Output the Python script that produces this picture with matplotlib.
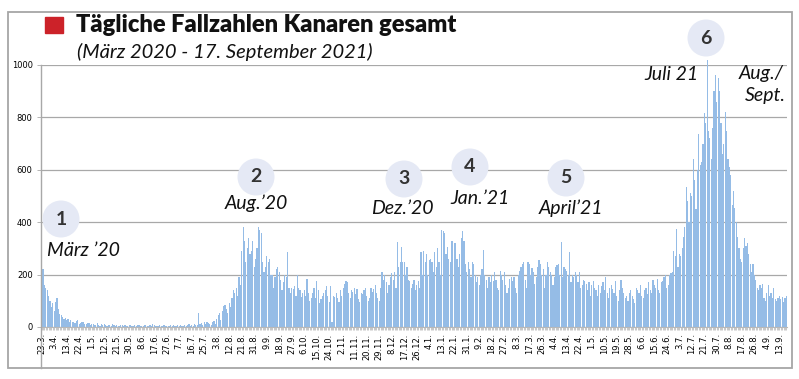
import matplotlib
matplotlib.use("Agg")
import matplotlib.pyplot as plt
from matplotlib.patches import Rectangle, Ellipse
from matplotlib.lines import Line2D

# ---- data: daily cases (one bar per reported day) ----
cases = [
    100, 220, 160, 150, 140, 120, 100, 75, 90, 60, 95, 110, 70, 50,
    45, 40, 30, 35, 25, 30, 20, 25, 18, 20, 15, 22, 28, 12,
    15, 20, 18, 10, 12, 16, 14, 8, 10, 12, 6, 9, 14, 7,
    5, 10, 8, 12, 6, 4, 9, 7, 5, 11, 6, 3, 8, 5,
    4, 7, 6, 3, 9, 5, 4, 6, 8, 3, 5, 7, 4, 6,
    8, 3, 5, 4, 6, 9, 3, 5, 7, 4, 12, 6, 3, 5,
    4, 6, 3, 5, 8, 4, 2, 5, 3, 6, 4, 7, 3, 5,
    6, 3, 8, 4, 5, 7, 3, 6, 10, 5, 8, 4, 12, 6,
    9, 55, 10, 14, 8, 18, 12, 20, 15, 10, 8, 20, 22, 12,
    30, 45, 55, 25, 60, 80, 85, 70, 55, 90, 75, 110, 140, 130,
    150, 120, 190, 160, 290, 380, 330, 250, 300, 340, 280, 290, 330, 230,
    260, 300, 380, 370, 360, 250, 210, 230, 270, 250, 260, 200, 200, 150,
    190, 220, 230, 210, 180, 140, 170, 200, 190, 285, 150, 130, 150, 145,
    155, 120, 200, 150, 140, 115, 130, 140, 120, 185, 130, 100, 110, 130,
    150, 110, 175, 140, 90, 105, 120, 130, 140, 155, 120, 95, 155, 20,
    120, 115, 130, 110, 95, 140, 120, 150, 165, 175, 170, 130, 110, 140,
    135, 150, 125, 145, 105, 95, 130, 125, 140, 150, 120, 100, 110, 150,
    135, 145, 160, 130, 110, 100, 150, 210, 180, 200, 170, 130, 160, 190,
    205, 180, 210, 150, 325, 230, 250, 305, 250, 250, 200, 230, 180, 175,
    150, 165, 180, 140, 160, 175, 150, 285, 200, 290, 250, 280, 200, 255,
    260, 250, 210, 285, 230, 300, 250, 200, 370, 365, 360, 280, 305, 260,
    250, 330, 330, 320, 320, 260, 230, 280, 340, 365, 330, 240, 210, 250,
    220, 190, 250, 240, 200, 170, 190, 160, 200, 220, 295, 200, 180, 150,
    190, 170, 200, 175, 210, 180, 150, 140, 215, 200, 180, 210, 160, 130,
    150, 185, 190, 175, 190, 150, 130, 200, 215, 230, 240, 250, 180, 150,
    250, 240, 200, 225, 210, 165, 190, 230, 255, 240, 200, 220, 150, 200,
    250, 230, 210, 200, 160, 190, 230, 235, 240, 200, 325, 190, 230, 220,
    215, 200, 285, 170, 200, 190, 210, 200, 170, 210, 150, 160, 180, 175,
    165, 140, 170, 120, 160, 175, 150, 140, 120, 160, 130, 155, 170, 140,
    190, 130, 110, 150, 160, 145, 130, 175, 120, 100, 140, 180, 150, 130,
    110, 120, 100, 130, 140, 120, 105, 90, 150, 140, 130, 160, 120, 110,
    140, 150, 125, 170, 140, 130, 180, 160, 150, 185, 140, 130, 170, 175,
    190, 200, 150, 160, 200, 205, 210, 290, 270, 375, 230, 280, 270, 300,
    345, 380, 535, 480, 400, 510, 500, 640, 560, 450, 600, 735, 620, 630,
    700, 815, 780, 1020, 750, 720, 640, 760, 900, 960, 860, 950, 900, 780,
    660, 700, 820, 750, 640, 610, 580, 465, 520, 455, 400, 345, 300, 260,
    250, 300, 340, 310, 320, 280, 240, 210, 240, 200, 180, 150, 140, 160,
    150, 165, 110, 100, 130, 160, 120, 130, 110, 150, 105, 100, 110, 120,
    105, 115, 95, 110, 120,
]

tick_labels = [
    "23.3.", "3.4.", "13.4.", "22.4.", "1.5.", "12.5.", "21.5.", "30.5.", "8.6.", "17.6.",
    "27.6.", "7.7.", "16.7.", "25.7.", "3.8.", "12.8.", "21.8.", "31.8.", "9.9.", "18.9.",
    "27.9.", "6.10.", "15.10.", "24.10.", "2.11.", "11.11.", "20.11.", "29.11.", "8.12.", "17.12.",
    "26.12.", "4.1.", "13.1.", "22.1.", "31.1.", "9.2.", "18.2.", "27.2.", "8.3.", "17.3.",
    "26.3.", "4.4.", "13.4.", "22.4.", "1.5.", "10.5.", "19.5.", "28.5.", "6.6.", "15.6.",
    "24.6.", "3.7.", "12.7.", "21.7.", "30.7.", "8.8.", "17.8.", "26.8.", "4.9.", "13.9.",
]
tick_step = 9

y_ticks = [0, 200, 400, 600, 800, 1000]

annotations = [
    ("1", "März ’20"),
    ("2", "Aug.’20"),
    ("3", "Dez.’20"),
    ("4", "Jan.’21"),
    ("5", "April’21"),
    ("6", "Juli 21"),
]

title = "Tägliche Fallzahlen Kanaren gesamt"
subtitle = "(März 2020 - 17. September 2021)"

# ---- figure ----
W, H = 799, 379
fig = plt.figure(figsize=(W / 100, H / 100), dpi=100)


def fx(px):
    return px / W


def fy(py):
    return 1 - py / H


ax = fig.add_axes([fx(41), fy(327), fx(787) - fx(41), fy(65) - fy(327)])
n = len(cases)
x = list(range(n))
ax.bar(x, cases, width=0.85, color="#95bce6", edgecolor="none", clip_on=False, zorder=2)
ax.set_xlim(-0.5, n - 0.5)
ax.set_ylim(0, 1000)
ax.set_yticks(y_ticks)
ax.set_yticklabels([str(v) for v in y_ticks], fontsize=6, family="DejaVu Sans")
ax.grid(axis="y", color="#a8a8a8", linewidth=0.9, zorder=0)
ax.set_axisbelow(True)
ax.set_xticks([i * tick_step for i in range(len(tick_labels))])
ax.set_xticklabels(tick_labels, rotation=90, fontsize=6, family="DejaVu Sans")
ax.set_xticks(x, minor=True)
ax.tick_params(axis="x", which="both", length=2.5, width=0.5, color="#b0b0b0", pad=2)
ax.tick_params(axis="y", length=3, width=0.6, color="#a8a8a8", pad=3)
for s in ["top", "right", "left"]:
    ax.spines[s].set_visible(False)
ax.spines["bottom"].set_color("#b8b8b8")
ax.spines["bottom"].set_linewidth(0.8)

# left axis line extending down to the frame
fig.add_artist(Line2D([fx(41), fx(41)], [fy(65), fy(368)], color="#a8a8a8", lw=1.0))

# outer frame
fig.add_artist(Rectangle((fx(8), fy(368)), fx(792) - fx(8), fy(12) - fy(368),
                         fill=False, edgecolor="#a6a6a6", lw=1.3))

# title
fig.add_artist(Rectangle((fx(45), fy(33)), fx(18), fy(0) - fy(16), color="#cc2229"))
fig.text(fx(76), fy(25), title, fontsize=17, fontweight="heavy", family="Lato",
         va="center", ha="left", color="#111111")
fig.text(fx(77), fy(52), subtitle, fontsize=14.5, style="italic", family="Lato",
         va="center", ha="left", color="#111111")

# annotation circles and labels
circle_pos = [(61, 219), (256, 177), (404, 179), (470, 167), (566, 178), (706, 38)]
label_pos = [(47, 250, "left"), (256, 203, "center"), (402, 209, "center"),
             (480, 198, "center"), (571, 208, "center"), (698, 75, "right")]
r = 18.5
for (num, lab), (cx, cy), (lx, ly, ha) in zip(annotations, circle_pos, label_pos):
    fig.add_artist(Ellipse((fx(cx), fy(cy)), 2 * r / W, 2 * r / H,
                           facecolor="#e5e9f5", edgecolor="none", zorder=5))
    fig.text(fx(cx), fy(cy), num, fontsize=14, fontweight="bold", family="Lato",
             ha="center", va="center", color="#333333", zorder=6)
    fig.text(fx(lx), fy(ly), lab, fontsize=14, style="italic", family="Lato",
             ha=ha, va="center", color="#111111", zorder=6)

fig.text(fx(784), fy(74), "Aug./", fontsize=14, style="italic", family="Lato",
         ha="right", va="center", color="#111111")
fig.text(fx(786), fy(96), "Sept.", fontsize=14, style="italic", family="Lato",
         ha="right", va="center", color="#111111")

fig.savefig("out.png", dpi=100)
